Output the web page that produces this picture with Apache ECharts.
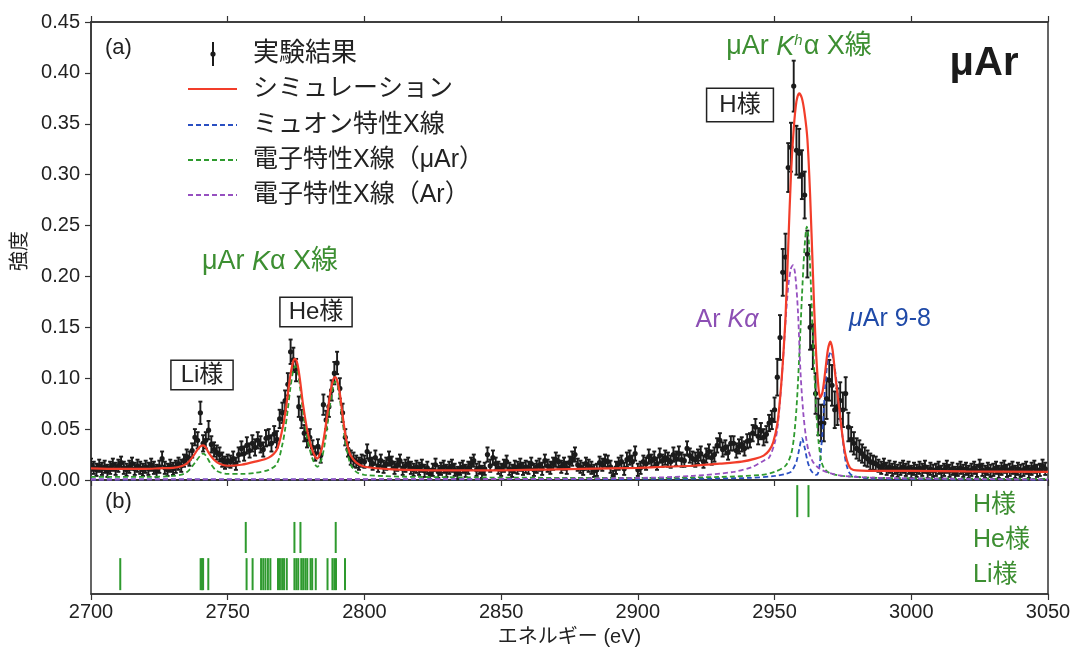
<!DOCTYPE html>
<html><head><meta charset="utf-8">
<script src="https://cdn.jsdelivr.net/npm/echarts@6/dist/echarts.min.js"></script>
<style>html,body{margin:0;padding:0;background:#fff}#c{width:1072px;height:651px}</style>
</head><body><div id="c"></div><script>
// ---- experimental spectrum: 1 eV bins starting at 2700 eV ----
const energyStart = 2700;
const energyStep = 1;
const expValues = [
 0.015,0.012,0.010,0.014,0.011,0.013,0.009,0.012,0.015,0.011,
 0.014,0.017,0.012,0.010,0.013,0.016,0.011,0.014,0.012,0.010,
 0.013,0.011,0.015,0.012,0.009,0.013,0.021,0.012,0.010,0.014,
 0.011,0.013,0.016,0.014,0.019,0.023,0.021,0.029,0.042,0.039,
 0.066,0.036,0.039,0.049,0.035,0.030,0.027,0.025,0.020,0.017,
 0.019,0.018,0.021,0.016,0.025,0.031,0.026,0.034,0.029,0.036,
 0.032,0.039,0.035,0.030,0.041,0.042,0.036,0.045,0.040,0.060,
 0.066,0.078,0.094,0.126,0.118,0.108,0.072,0.060,0.046,0.040,
 0.042,0.032,0.026,0.033,0.024,0.074,0.059,0.072,0.088,0.105,
 0.115,0.090,0.066,0.042,0.030,0.022,0.020,0.018,0.016,0.019,
 0.018,0.028,0.020,0.016,0.022,0.014,0.019,0.013,0.016,0.021,
 0.017,0.012,0.015,0.019,0.011,0.014,0.016,0.012,0.010,0.013,
 0.011,0.014,0.009,0.012,0.006,0.010,0.015,0.008,0.011,0.013,
 0.009,0.012,0.014,0.010,0.007,0.011,0.013,0.009,0.012,0.016,
 0.019,0.010,0.012,0.008,0.011,0.025,0.014,0.022,0.016,0.012,
 0.010,0.014,0.018,0.011,0.009,0.013,0.012,0.015,0.011,0.013,
 0.012,0.016,0.010,0.013,0.015,0.011,0.019,0.014,0.012,0.016,
 0.020,0.018,0.013,0.016,0.012,0.017,0.021,0.025,0.015,0.013,
 0.011,0.016,0.014,0.012,0.009,0.010,0.017,0.015,0.019,0.018,
 0.013,0.004,0.012,0.016,0.018,0.011,0.020,0.022,0.018,0.026,
 0.010,0.012,0.018,0.016,0.023,0.019,0.021,0.016,0.024,0.019,
 0.022,0.020,0.018,0.025,0.021,0.026,0.020,0.019,0.031,0.024,
 0.021,0.020,0.023,0.026,0.018,0.024,0.028,0.022,0.025,0.034,
 0.039,0.030,0.032,0.027,0.036,0.036,0.029,0.033,0.035,0.031,
 0.038,0.039,0.046,0.052,0.043,0.048,0.042,0.045,0.056,0.059,
 0.069,0.101,0.140,0.204,0.219,0.307,0.327,0.387,0.324,0.321,
 0.300,0.280,0.222,0.150,0.131,0.085,0.062,0.056,0.056,0.080,
 0.098,0.093,0.069,0.072,0.078,0.069,0.085,0.052,0.040,0.036,
 0.031,0.029,0.026,0.023,0.021,0.018,0.017,0.016,0.014,0.012,
 0.015,0.011,0.013,0.010,0.012,0.009,0.011,0.013,0.010,0.012,
 0.008,0.011,0.009,0.012,0.010,0.013,0.008,0.011,0.009,0.010,
 0.012,0.008,0.010,0.013,0.009,0.011,0.007,0.010,0.012,0.009,
 0.011,0.008,0.010,0.012,0.009,0.014,0.010,0.008,0.011,0.009,
 0.010,0.012,0.008,0.011,0.013,0.009,0.010,0.012,0.008,0.011,
 0.009,0.010,0.012,0.008,0.011,0.013,0.009,0.010,0.014,0.011
];
const expErrors = [
 0.006,0.006,0.006,0.006,0.006,0.006,0.006,0.006,0.006,0.006,
 0.006,0.006,0.006,0.006,0.006,0.006,0.006,0.006,0.006,0.006,
 0.006,0.006,0.006,0.006,0.006,0.006,0.007,0.006,0.006,0.006,
 0.006,0.006,0.006,0.006,0.006,0.007,0.007,0.007,0.008,0.008,
 0.011,0.008,0.008,0.009,0.008,0.007,0.007,0.007,0.007,0.006,
 0.006,0.006,0.007,0.006,0.007,0.007,0.007,0.008,0.007,0.008,
 0.008,0.008,0.008,0.007,0.008,0.008,0.008,0.008,0.008,0.009,
 0.010,0.010,0.011,0.012,0.012,0.011,0.010,0.009,0.008,0.008,
 0.008,0.007,0.007,0.007,0.007,0.010,0.009,0.010,0.010,0.011,
 0.011,0.010,0.009,0.008,0.007,0.007,0.007,0.006,0.006,0.006,
 0.006,0.007,0.007,0.006,0.007,0.006,0.006,0.006,0.006,0.007,
 0.006,0.006,0.006,0.006,0.006,0.006,0.006,0.006,0.006,0.006,
 0.006,0.006,0.006,0.006,0.005,0.006,0.006,0.006,0.006,0.006,
 0.006,0.006,0.006,0.006,0.006,0.006,0.006,0.006,0.006,0.006,
 0.006,0.006,0.006,0.006,0.006,0.007,0.006,0.007,0.006,0.006,
 0.006,0.006,0.006,0.006,0.006,0.006,0.006,0.006,0.006,0.006,
 0.006,0.006,0.006,0.006,0.006,0.006,0.006,0.006,0.006,0.006,
 0.007,0.006,0.006,0.006,0.006,0.006,0.007,0.007,0.006,0.006,
 0.006,0.006,0.006,0.006,0.006,0.006,0.006,0.006,0.006,0.006,
 0.006,0.005,0.006,0.006,0.006,0.006,0.007,0.007,0.006,0.007,
 0.006,0.006,0.006,0.006,0.007,0.006,0.007,0.006,0.007,0.006,
 0.007,0.007,0.006,0.007,0.007,0.007,0.007,0.006,0.007,0.007,
 0.007,0.007,0.007,0.007,0.006,0.007,0.007,0.007,0.007,0.007,
 0.007,0.007,0.007,0.007,0.007,0.007,0.007,0.007,0.007,0.007,
 0.007,0.007,0.008,0.008,0.008,0.008,0.008,0.008,0.008,0.009,
 0.012,0.018,0.022,0.023,0.023,0.024,0.024,0.025,0.024,0.024,
 0.024,0.023,0.023,0.022,0.022,0.020,0.018,0.018,0.018,0.020,
 0.020,0.020,0.018,0.018,0.018,0.017,0.016,0.014,0.012,0.011,
 0.010,0.010,0.009,0.009,0.008,0.008,0.007,0.007,0.006,0.006,
 0.006,0.006,0.006,0.006,0.006,0.006,0.006,0.006,0.006,0.006,
 0.006,0.006,0.006,0.006,0.006,0.006,0.006,0.006,0.006,0.006,
 0.006,0.006,0.006,0.006,0.006,0.006,0.006,0.006,0.006,0.006,
 0.006,0.006,0.006,0.006,0.006,0.006,0.006,0.006,0.006,0.006,
 0.006,0.006,0.006,0.006,0.006,0.006,0.006,0.006,0.006,0.006,
 0.006,0.006,0.006,0.006,0.006,0.006,0.006,0.006,0.006,0.006
];

// ---- simulation (total) [energy, intensity] ----
const simCurve = [
 [2700,0.0115],[2710,0.011],[2720,0.011],[2725,0.0115],[2730,0.012],[2733,0.0135],[2735,0.016],
 [2737,0.022],[2739,0.030],[2740,0.033],[2741,0.034],[2742,0.032],[2743,0.027],[2745,0.020],
 [2747,0.016],[2750,0.014],[2755,0.015],[2760,0.018],[2765,0.022],[2768,0.030],[2770,0.050],
 [2771,0.065],[2772,0.085],[2773,0.104],[2774,0.117],[2774.6,0.119],[2775.5,0.114],[2776.5,0.097],
 [2777.5,0.075],[2779,0.050],[2780,0.038],[2781,0.029],[2782,0.023],[2782.7,0.021],[2783.5,0.024],
 [2784.5,0.032],[2785.5,0.047],[2786.5,0.066],[2787.5,0.085],[2788.5,0.098],[2789.3,0.101],
 [2790,0.098],[2791,0.085],[2792,0.064],[2793,0.045],[2794,0.032],[2795,0.024],[2797,0.017],
 [2800,0.013],[2810,0.0105],[2830,0.0095],[2850,0.0095],[2870,0.0105],[2890,0.0115],[2900,0.012],
 [2910,0.013],[2920,0.014],[2930,0.016],[2938,0.018],[2943,0.021],[2946,0.024],[2948,0.029],
 [2949.5,0.037],[2951,0.055],[2952,0.080],[2953,0.115],[2954,0.160],[2955,0.230],[2956,0.300],
 [2957,0.345],[2958,0.372],[2959,0.380],[2960,0.375],[2961,0.360],[2962,0.335],[2963,0.280],
 [2964,0.205],[2965,0.135],[2966,0.092],[2966.7,0.081],[2967.5,0.086],[2968.5,0.106],[2969.5,0.128],
 [2970.4,0.136],[2971.2,0.128],[2972,0.108],[2973,0.085],[2974,0.062],[2975,0.040],[2976,0.024],
 [2977,0.015],[2978,0.011],[2980,0.0095],[2990,0.009],[3000,0.009],[3020,0.0085],[3050,0.008]
];
// ---- muonic X-ray component ----
const muonCurve = [
 [2700,0.0005],[2900,0.001],[2940,0.002],[2950,0.004],[2954,0.006],[2956,0.008],[2957,0.012],
 [2958,0.018],[2959,0.030],[2960,0.041],[2961,0.032],[2962,0.019],[2963,0.011],[2964,0.007],
 [2965,0.005],[2965.8,0.006],[2966.5,0.015],[2967,0.030],[2967.5,0.046],[2968.5,0.091],
 [2969.5,0.118],[2970.6,0.126],[2971.7,0.115],[2972.9,0.091],[2974,0.060],[2974.7,0.046],
 [2975.6,0.025],[2976.5,0.013],[2978,0.005],[2985,0.0015],[3050,0.0005]
];
// ---- electronic X-ray component (μAr) ----
const elecMuArCurve = [
 [2700,0.003],[2720,0.003],[2730,0.004],[2734,0.006],[2736,0.010],[2738,0.017],[2740,0.024],
 [2741,0.026],[2742,0.024],[2744,0.015],[2746,0.009],[2750,0.006],[2755,0.006],[2760,0.007],
 [2765,0.010],[2768,0.016],[2770,0.035],[2771,0.050],[2772,0.070],[2773,0.092],[2774,0.108],
 [2774.7,0.112],[2775.5,0.107],[2776.5,0.090],[2777.5,0.068],[2779,0.042],[2780,0.030],
 [2781,0.021],[2782,0.015],[2782.8,0.013],[2783.5,0.015],[2784.5,0.022],[2785.5,0.036],
 [2786.5,0.055],[2787.5,0.075],[2788.5,0.091],[2789.4,0.097],[2790.2,0.093],[2791,0.080],
 [2792,0.058],[2793,0.038],[2794,0.024],[2795,0.015],[2797,0.008],[2800,0.005],[2820,0.003],
 [2900,0.002],[2930,0.003],[2945,0.005],[2950,0.008],[2954,0.014],[2956,0.025],[2957,0.040],
 [2958,0.070],[2959,0.120],[2960,0.180],[2961,0.230],[2961.8,0.249],[2962.5,0.235],[2963.3,0.190],
 [2964,0.140],[2965,0.080],[2966,0.040],[2967,0.020],[2968,0.012],[2970,0.007],[2975,0.004],
 [2990,0.002],[3050,0.001]
];
// ---- electronic X-ray component (Ar) ----
const elecArCurve = [
 [2700,0.0005],[2850,0.001],[2900,0.002],[2920,0.004],[2935,0.008],[2942,0.013],[2946,0.019],
 [2948,0.022],[2950,0.036],[2951,0.050],[2952,0.078],[2953,0.114],[2954,0.155],[2955,0.190],
 [2956,0.208],[2956.7,0.211],[2957.5,0.203],[2958.5,0.168],[2959.5,0.105],[2960.5,0.066],
 [2961.5,0.042],[2962.5,0.028],[2964,0.018],[2966.5,0.011],[2970,0.007],[2975,0.004],
 [2990,0.002],[3050,0.0005]
];
// ---- transition energies for panel (b) ----
const hLikeLines = [2958.3, 2962.4];
const heLikeLines = [2756.6, 2774.4, 2776.6, 2789.5];
const liLikeLines = [2710.7, 2740.1, 2740.6, 2741.0, 2742.9, 2756.9, 2759.1, 2762.2, 2763.0, 2763.8,
 2764.7, 2765.6, 2768.4, 2769.1, 2769.9, 2770.6, 2771.6, 2774.4, 2775.1, 2775.8, 2776.9, 2777.6,
 2778.4, 2779.1, 2780.3, 2780.9, 2782.2, 2786.5, 2788.3, 2789.0, 2789.6, 2792.9];

// ---- styles ----
const FONT = '"Liberation Sans", Arial, "Noto Sans CJK JP", sans-serif';
const JFONT = '"Liberation Sans", "Noto Sans CJK JP", sans-serif';
const C_RED = '#f23d2a', C_BLUE = '#2a4fc2', C_GREEN = '#2e9a2e', C_PURPLE = '#9650c0';
const T_GREEN = '#3d8f32', T_BLUE = '#1f4aa8', T_PURPLE = '#8c4fb4';
const AX = '#333';

const expData = expValues.map((v, i) => [energyStart + i * energyStep, v, expErrors[i]]);
const rowSpan = [[0.12, 1.12], [1.28, 2.25], [2.40, 3.40]]; // Li, He, H rows (panel b y-range)
const transData = []
  .concat(liLikeLines.map(e => [e, 0]))
  .concat(heLikeLines.map(e => [e, 1]))
  .concat(hLikeLines.map(e => [e, 2]));

const chart = echarts.init(document.getElementById('c'), null, {renderer: 'canvas'});
const dashed = (color) => ({color, width: 1.8, type: [5, 3]});
const tickStyle = {show: true, length: 6, lineStyle: {color: AX, width: 1.2}};
const lineStyleAx = {show: true, lineStyle: {color: AX, width: 1.5}};

const option = {
  animation: false,
  backgroundColor: '#fff',
  textStyle: {fontFamily: FONT},
  grid: [
    {left: 91, right: 24, top: 22, height: 458, show: true, borderColor: AX, borderWidth: 1.5,
     backgroundColor: 'transparent', containLabel: false, outerBoundsMode: 'none'},
    {left: 91, right: 24, top: 480, height: 114, show: true, borderColor: AX, borderWidth: 1.5,
     backgroundColor: 'transparent', containLabel: false, outerBoundsMode: 'none'}
  ],
  xAxis: [
    {gridIndex: 0, type: 'value', min: 2700, max: 3050, interval: 50, position: 'bottom',
     axisLine: lineStyleAx, axisTick: tickStyle, axisLabel: {show: false}, splitLine: {show: false}},
    {gridIndex: 0, type: 'value', min: 2700, max: 3050, interval: 50, position: 'top',
     axisLine: lineStyleAx, axisTick: tickStyle, axisLabel: {show: false}, splitLine: {show: false}},
    {gridIndex: 1, type: 'value', min: 2700, max: 3050, interval: 50, position: 'bottom',
     axisLine: lineStyleAx, axisTick: tickStyle,
     axisLabel: {show: true, fontSize: 20, color: '#222', margin: 8, fontFamily: FONT, formatter: v => String(v)},
     splitLine: {show: false},
     name: 'エネルギー (eV)', nameLocation: 'middle', nameGap: 33,
     nameTextStyle: {fontSize: 20, color: '#222', fontFamily: JFONT}}
  ],
  yAxis: [
    {gridIndex: 0, type: 'value', min: 0, max: 0.45, interval: 0.05,
     axisLine: lineStyleAx, axisTick: tickStyle,
     axisLabel: {fontSize: 20, color: '#222', margin: 11, fontFamily: FONT, formatter: v => v.toFixed(2)},
     splitLine: {show: false},
     name: '強度', nameLocation: 'middle', nameGap: 60, nameRotate: 90,
     nameTextStyle: {fontSize: 20, color: '#222', fontFamily: JFONT}},
    {gridIndex: 1, type: 'value', min: 0, max: 3.56, show: false}
  ],
  series: [
    {
      name: '実験結果', type: 'custom', xAxisIndex: 0, yAxisIndex: 0, data: expData, z: 2, clip: true,
      renderItem: (params, api) => {
        const x = api.value(0), y = api.value(1), e = api.value(2);
        const p = api.coord([x, y]), hi = api.coord([x, y + e]), lo = api.coord([x, y - e]);
        const st = {stroke: '#1b1b1b', lineWidth: 1.9};
        return {type: 'group', children: [
          {type: 'line', shape: {x1: p[0], y1: hi[1], x2: p[0], y2: lo[1]}, style: st},
          {type: 'line', shape: {x1: p[0] - 2, y1: hi[1], x2: p[0] + 2, y2: hi[1]}, style: st},
          {type: 'line', shape: {x1: p[0] - 2, y1: lo[1], x2: p[0] + 2, y2: lo[1]}, style: st},
          {type: 'circle', shape: {cx: p[0], cy: p[1], r: 2.6}, style: {fill: '#1b1b1b'}}
        ]};
      }
    },
    {name: 'ミュオン特性X線', type: 'line', xAxisIndex: 0, yAxisIndex: 0, data: muonCurve, showSymbol: false, smooth: 0.3, lineStyle: dashed(C_BLUE), z: 3},
    {name: '電子特性X線（μAr）', type: 'line', xAxisIndex: 0, yAxisIndex: 0, data: elecMuArCurve, showSymbol: false, smooth: 0.3, lineStyle: dashed(C_GREEN), z: 3},
    {name: '電子特性X線（Ar）', type: 'line', xAxisIndex: 0, yAxisIndex: 0, data: elecArCurve, showSymbol: false, smooth: 0.3, lineStyle: dashed(C_PURPLE), z: 3},
    {name: 'シミュレーション', type: 'line', xAxisIndex: 0, yAxisIndex: 0, data: simCurve, showSymbol: false, smooth: 0.3, lineStyle: {color: C_RED, width: 2.2}, z: 4},
    {
      name: 'transitions', type: 'custom', xAxisIndex: 2, yAxisIndex: 1, data: transData, z: 3,
      renderItem: (params, api) => {
        const e = api.value(0), row = api.value(1);
        const a = api.coord([e, rowSpan[row][0]]), b = api.coord([e, rowSpan[row][1]]);
        return {type: 'line', shape: {x1: a[0], y1: a[1], x2: b[0], y2: b[1]}, style: {stroke: C_GREEN, lineWidth: 2}};
      }
    }
  ],
  graphic: [
    {type: 'text', x: 105, y: 48, style: {text: '(a)', fontSize: 22, fill: '#222', fontFamily: FONT, verticalAlign: 'middle'}},
    {type: 'text', x: 105, y: 502, style: {text: '(b)', fontSize: 22, fill: '#222', fontFamily: FONT, verticalAlign: 'middle'}},
    // legend
    {type: 'line', shape: {x1: 213, y1: 42, x2: 213, y2: 66}, style: {stroke: '#1b1b1b', lineWidth: 2}},
    {type: 'circle', shape: {cx: 213, cy: 54, r: 2.6}, style: {fill: '#1b1b1b'}},
    {type: 'text', x: 253, y: 54, style: {text: '実験結果', fontSize: 26, fill: '#222', fontFamily: JFONT, verticalAlign: 'middle'}},
    {type: 'line', shape: {x1: 188, y1: 89, x2: 237, y2: 89}, style: {stroke: C_RED, lineWidth: 2}},
    {type: 'text', x: 253, y: 89, style: {text: 'シミュレーション', fontSize: 25, fill: '#222', fontFamily: JFONT, verticalAlign: 'middle'}},
    {type: 'line', shape: {x1: 188, y1: 125, x2: 237, y2: 125}, style: {stroke: C_BLUE, lineWidth: 1.8, lineDash: [5, 3]}},
    {type: 'text', x: 253, y: 125, style: {text: 'ミュオン特性X線', fontSize: 25, fill: '#222', fontFamily: JFONT, verticalAlign: 'middle'}},
    {type: 'line', shape: {x1: 188, y1: 160, x2: 237, y2: 160}, style: {stroke: C_GREEN, lineWidth: 1.8, lineDash: [5, 3]}},
    {type: 'text', x: 253, y: 160, style: {text: '電子特性X線（μAr）', fontSize: 25, fill: '#222', fontFamily: JFONT, verticalAlign: 'middle'}},
    {type: 'line', shape: {x1: 188, y1: 195, x2: 237, y2: 195}, style: {stroke: C_PURPLE, lineWidth: 1.8, lineDash: [5, 3]}},
    {type: 'text', x: 253, y: 195, style: {text: '電子特性X線（Ar）', fontSize: 25, fill: '#222', fontFamily: JFONT, verticalAlign: 'middle'}},
    // big label
    {type: 'text', x: 984, y: 64, style: {text: 'μAr', fontSize: 40, fontWeight: 'bold', fill: '#1b1b1b', fontFamily: FONT, align: 'center', verticalAlign: 'middle'}},
    // group labels
    {type: 'text', x: 799, y: 47, style: {
      text: '{n|μAr }{i|K}{s|h}{n|α X線}', align: 'center', verticalAlign: 'middle', fill: T_GREEN, fontFamily: JFONT,
      rich: {n: {fontSize: 27, fill: T_GREEN, fontFamily: JFONT}, i: {fontSize: 27, fill: T_GREEN, fontStyle: 'italic', fontFamily: FONT},
             s: {fontSize: 15, fill: T_GREEN, fontStyle: 'italic', fontFamily: FONT, verticalAlign: 'top', padding: [0, 1, 12, 0]}}}},
    {type: 'text', x: 270, y: 262, style: {
      text: '{n|μAr }{i|K}{n|α X線}', align: 'center', verticalAlign: 'middle', fill: T_GREEN, fontFamily: JFONT,
      rich: {n: {fontSize: 27, fill: T_GREEN, fontFamily: JFONT}, i: {fontSize: 27, fill: T_GREEN, fontStyle: 'italic', fontFamily: FONT}}}},
    {type: 'text', x: 202, y: 375, style: {text: 'Li様', fontSize: 24, fill: '#222', fontFamily: JFONT, align: 'center', verticalAlign: 'middle',
      borderColor: '#222', borderWidth: 1.5, padding: [2, 9, 2, 9], backgroundColor: '#fff'}},
    {type: 'text', x: 316, y: 312, style: {text: 'He様', fontSize: 24, fill: '#222', fontFamily: JFONT, align: 'center', verticalAlign: 'middle',
      borderColor: '#222', borderWidth: 1.5, padding: [2, 8, 2, 8], backgroundColor: '#fff'}},
    {type: 'text', x: 740, y: 105, style: {text: 'H様', fontSize: 24, fill: '#222', fontFamily: JFONT, align: 'center', verticalAlign: 'middle',
      borderColor: '#222', borderWidth: 1.5, padding: [4, 12, 4, 12], backgroundColor: '#fff'}},
    {type: 'text', x: 727, y: 320, style: {
      text: '{n|Ar }{i|Kα}', align: 'center', verticalAlign: 'middle',
      rich: {n: {fontSize: 25, fill: T_PURPLE, fontFamily: FONT}, i: {fontSize: 25, fill: T_PURPLE, fontStyle: 'italic', fontFamily: FONT}}}},
    {type: 'text', x: 890, y: 319, style: {
      text: '{i|μ}{n|Ar 9-8}', align: 'center', verticalAlign: 'middle',
      rich: {n: {fontSize: 25, fill: T_BLUE, fontFamily: FONT}, i: {fontSize: 25, fill: T_BLUE, fontStyle: 'italic', fontFamily: FONT}}}},
    // panel b row labels
    {type: 'text', x: 973, y: 505, style: {text: 'H様', fontSize: 25, fill: T_GREEN, fontFamily: JFONT, verticalAlign: 'middle'}},
    {type: 'text', x: 973, y: 540, style: {text: 'He様', fontSize: 25, fill: T_GREEN, fontFamily: JFONT, verticalAlign: 'middle'}},
    {type: 'text', x: 973, y: 575, style: {text: 'Li様', fontSize: 25, fill: T_GREEN, fontFamily: JFONT, verticalAlign: 'middle'}}
  ]
};
chart.setOption(option);
</script></body></html>
